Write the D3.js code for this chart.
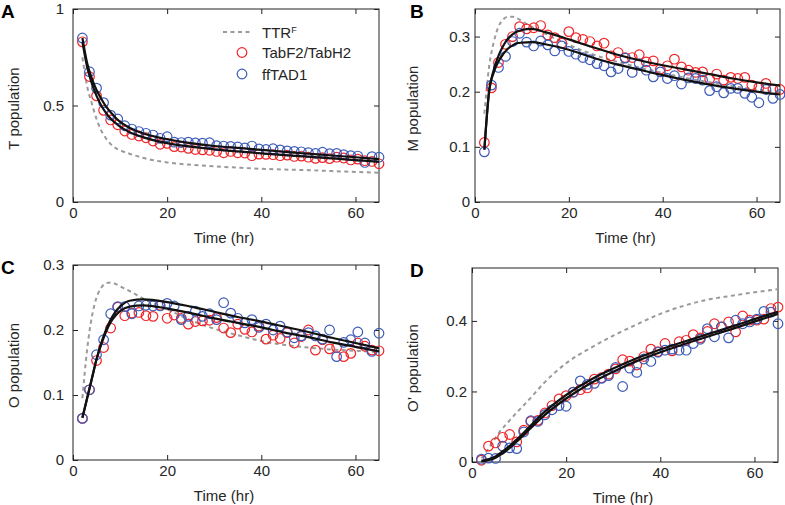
<!DOCTYPE html>
<html>
<head>
<meta charset="utf-8">
<script src="https://cdn.jsdelivr.net/npm/d3@7"></script>
<style>
  body { margin: 0; background: #fff; }
  text { font-family: "Liberation Sans", Arial, Helvetica, sans-serif; }
</style>
</head>
<body>
<svg id="chart" width="785" height="505"></svg>
<script>
// measurement times (hr)
const time = [2, 3.5, 5, 6.5, 8, 9.5, 11, 12.5, 14, 15.5, 17, 18.5, 20, 21.5, 23, 24.5, 26, 27.5, 29, 30.5,
  32, 33.5, 35, 36.5, 38, 39.5, 41, 42.5, 44, 45.5, 47, 48.5, 50, 51.5, 53, 54.5, 56, 57.5, 59, 60.5, 62, 63.5, 65]
// knots of the model curves (hr)
const fitTime = [2, 3, 4, 5, 6, 7, 8, 9, 10, 12, 15, 20, 25, 30, 35, 40, 45, 50, 55, 60, 65]

const xTicks = [0, 20, 40, 60]

// A: T population
const tabT = [0.83, 0.65, 0.55, 0.475, 0.425, 0.40, 0.368, 0.35, 0.342, 0.333, 0.316, 0.299, 0.304,
  0.287, 0.285, 0.278, 0.272, 0.27, 0.268, 0.262, 0.255, 0.262, 0.255, 0.254, 0.24, 0.248, 0.247, 0.245,
  0.24, 0.243, 0.236, 0.238, 0.232, 0.226, 0.23, 0.225, 0.232, 0.228, 0.218, 0.222, 0.214, 0.21, 0.198]
const ffT = [0.85, 0.675, 0.59, 0.515, 0.45, 0.43, 0.395, 0.378, 0.365, 0.356, 0.347, 0.33, 0.338,
  0.31, 0.308, 0.31, 0.306, 0.305, 0.307, 0.292, 0.29, 0.288, 0.285, 0.28, 0.29, 0.275, 0.272, 0.276,
  0.27, 0.265, 0.262, 0.26, 0.256, 0.252, 0.258, 0.25, 0.252, 0.245, 0.24, 0.238, 0.205, 0.235, 0.232]
const fitTabT = [0.83, 0.7, 0.615, 0.55, 0.5, 0.462, 0.432, 0.41, 0.39, 0.362, 0.335, 0.305, 0.287, 0.273,
  0.262, 0.252, 0.243, 0.235, 0.226, 0.217, 0.208]
const fitFfT = [0.85, 0.72, 0.64, 0.58, 0.535, 0.495, 0.465, 0.438, 0.415, 0.385, 0.355, 0.325, 0.305, 0.29,
  0.28, 0.27, 0.26, 0.25, 0.241, 0.232, 0.222]
const ttrT = [0.75, 0.6, 0.51, 0.43, 0.37, 0.33, 0.3, 0.28, 0.268, 0.25, 0.228, 0.205, 0.193, 0.185,
  0.178, 0.172, 0.168, 0.165, 0.16, 0.156, 0.152]
const yTicksT = [0, 0.5, 1]

// B: M population
const tabM = [0.108, 0.207, 0.253, 0.286, 0.300, 0.318, 0.314, 0.316, 0.320, 0.303, 0.298, 0.288, 0.309,
  0.298, 0.295, 0.291, 0.283, 0.288, 0.265, 0.271, 0.262, 0.262, 0.267, 0.254, 0.256, 0.241, 0.247, 0.259,
  0.245, 0.239, 0.235, 0.236, 0.223, 0.232, 0.221, 0.226, 0.224, 0.226, 0.212, 0.208, 0.215, 0.204, 0.204]
const ffM = [0.091, 0.212, 0.244, 0.264, 0.291, 0.306, 0.290, 0.283, 0.292, 0.285, 0.274, 0.283, 0.273,
  0.268, 0.262, 0.258, 0.251, 0.247, 0.236, 0.242, 0.261, 0.235, 0.251, 0.239, 0.227, 0.236, 0.224, 0.229,
  0.214, 0.225, 0.224, 0.221, 0.202, 0.209, 0.198, 0.206, 0.206, 0.197, 0.190, 0.180, 0.204, 0.188, 0.195]
const fitTabM = [0.095, 0.2, 0.24, 0.265, 0.283, 0.296, 0.304, 0.309, 0.312, 0.314, 0.308, 0.295, 0.281,
  0.268, 0.257, 0.248, 0.24, 0.232, 0.224, 0.217, 0.211]
const fitFfM = [0.095, 0.2, 0.235, 0.255, 0.268, 0.278, 0.284, 0.288, 0.289, 0.29, 0.286, 0.276, 0.262,
  0.25, 0.24, 0.23, 0.221, 0.213, 0.206, 0.2, 0.195]
const ttrM = [0.16, 0.245, 0.29, 0.318, 0.331, 0.336, 0.336, 0.333, 0.328, 0.318, 0.305, 0.285, 0.268,
  0.255, 0.244, 0.234, 0.225, 0.217, 0.21, 0.204, 0.199]
const yTicksM = [0, 0.1, 0.2, 0.3]

// C: O population
const tabO = [0.064, 0.108, 0.153, 0.173, 0.203, 0.235, 0.222, 0.226, 0.227, 0.222, 0.221, 0.238, 0.218,
  0.223, 0.218, 0.209, 0.213, 0.214, 0.215, 0.219, 0.203, 0.196, 0.209, 0.201, 0.197, 0.206, 0.186, 0.192,
  0.187, 0.196, 0.18, 0.19, 0.2, 0.169, 0.185, 0.171, 0.173, 0.159, 0.164, 0.18, 0.175, 0.169, 0.168]
const ffO = [0.064, 0.108, 0.162, 0.185, 0.225, 0.236, 0.236, 0.225, 0.237, 0.238, 0.237, 0.237, 0.241,
  0.237, 0.216, 0.221, 0.229, 0.221, 0.225, 0.216, 0.242, 0.226, 0.218, 0.211, 0.216, 0.204, 0.209, 0.2,
  0.206, 0.197, 0.188, 0.191, 0.196, 0.191, 0.186, 0.2, 0.159, 0.181, 0.185, 0.197, 0.18, 0.167, 0.195]
const fitTabO = [0.065, 0.095, 0.125, 0.155, 0.178, 0.197, 0.212, 0.222, 0.229, 0.236, 0.238, 0.233, 0.226,
  0.218, 0.211, 0.204, 0.196, 0.189, 0.181, 0.174, 0.167]
const fitFfO = [0.065, 0.095, 0.125, 0.155, 0.18, 0.2, 0.216, 0.228, 0.236, 0.245, 0.247, 0.243, 0.236,
  0.228, 0.22, 0.213, 0.205, 0.197, 0.188, 0.18, 0.172]
const ttrO = [0.095, 0.17, 0.22, 0.25, 0.265, 0.272, 0.273, 0.271, 0.267, 0.26, 0.248, 0.232, 0.215,
  0.202, 0.192, 0.183, 0.177, 0.173, 0.17, 0.168, 0.166]
const yTicksO = [0, 0.1, 0.2, 0.3]

// D: O' population
const tabOp = [0.005, 0.045, 0.054, 0.07, 0.078, 0.057, 0.09, 0.115, 0.118, 0.139, 0.16, 0.179, 0.188,
  0.198, 0.205, 0.21, 0.235, 0.239, 0.249, 0.264, 0.29, 0.286, 0.275, 0.299, 0.32, 0.313, 0.336, 0.315,
  0.341, 0.345, 0.361, 0.352, 0.37, 0.392, 0.383, 0.397, 0.369, 0.414, 0.402, 0.402, 0.405, 0.435, 0.439]
const ffOp = [0.008, 0.011, 0.01, 0.045, 0.04, 0.038, 0.085, 0.117, 0.115, 0.134, 0.148, 0.16, 0.158,
  0.198, 0.23, 0.22, 0.223, 0.237, 0.245, 0.268, 0.214, 0.266, 0.254, 0.292, 0.285, 0.311, 0.317, 0.32,
  0.317, 0.317, 0.336, 0.348, 0.378, 0.355, 0.383, 0.352, 0.402, 0.392, 0.397, 0.405, 0.427, 0.425, 0.392]
const fitTabOp = [0.003, 0.006, 0.01, 0.016, 0.025, 0.035, 0.046, 0.058, 0.07, 0.097, 0.137, 0.19, 0.232,
  0.265, 0.294, 0.319, 0.341, 0.362, 0.383, 0.405, 0.426]
const fitFfOp = [0.002, 0.004, 0.007, 0.012, 0.02, 0.029, 0.04, 0.052, 0.064, 0.09, 0.128, 0.18, 0.222,
  0.256, 0.286, 0.311, 0.334, 0.355, 0.376, 0.398, 0.42]
const ttrOp = [0.01, 0.028, 0.048, 0.068, 0.088, 0.103, 0.118, 0.133, 0.147, 0.175, 0.22, 0.28, 0.322,
  0.358, 0.39, 0.42, 0.443, 0.46, 0.471, 0.481, 0.49]
const yTicksOp = [0, 0.2, 0.4]

const red = '#f0262a'
const blue = '#3d5cb8'
const gray = '#9a9a9a'
const ink = '#262626'

const svg = d3.select('#chart')

const panels = [
  { letter: 'A', x0: 73, x1: 379, y0: 9, y1: 202, yMax: 1, yTicks: yTicksT, label: 'T population',
    tab: tabT, ff: ffT, fitTab: fitTabT, fitFf: fitFfT, ttr: ttrT, pad: 9, lx: 19, legend: true },
  { letter: 'B', x0: 475, x1: 780, y0: 9, y1: 202, yMax: 0.35, yTicks: yTicksM, label: 'M population',
    tab: tabM, ff: ffM, fitTab: fitTabM, fitFf: fitFfM, ttr: ttrM, pad: 5, lx: 418 },
  { letter: 'C', x0: 73, x1: 379, y0: 265, y1: 460, yMax: 0.3, yTicks: yTicksO, label: 'O population',
    tab: tabO, ff: ffO, fitTab: fitTabO, fitFf: fitFfO, ttr: ttrO, pad: 9, lx: 19 },
  { letter: 'D', x0: 472, x1: 778, y0: 268, y1: 462, yMax: 0.55, yTicks: yTicksOp, label: 'O\u2019 population',
    tab: tabOp, ff: ffOp, fitTab: fitTabOp, fitFf: fitFfOp, ttr: ttrOp, pad: 5, lx: 418 }
]

const fmt = d3.format('~g')

function styleAxis(sel) {
  sel.select('.domain').remove()
  sel.selectAll('line').attr('stroke', '#222')
  sel.selectAll('text')
    .attr('font-family', '"Liberation Sans", Arial, sans-serif')
    .attr('font-size', 15)
    .attr('fill', ink)
}

panels.forEach(p => {
  const x = d3.scaleLinear().domain([0, 65]).range([p.x0, p.x1])
  const y = d3.scaleLinear().domain([0, p.yMax]).range([p.y1, p.y0])
  const g = svg.append('g')

  g.append('g')
    .attr('transform', `translate(0, ${p.y1})`)
    .call(d3.axisBottom(x).tickValues(xTicks).tickSize(-5).tickPadding(5).tickFormat(fmt))
    .call(styleAxis)
  g.append('g')
    .attr('transform', `translate(0, ${p.y0})`)
    .call(d3.axisTop(x).tickValues(xTicks).tickSize(-5).tickFormat(''))
    .call(styleAxis)
  g.append('g')
    .attr('transform', `translate(${p.x0}, 0)`)
    .call(d3.axisLeft(y).tickValues(p.yTicks).tickSize(-5).tickPadding(p.pad).tickFormat(fmt))
    .call(styleAxis)
  g.append('g')
    .attr('transform', `translate(${p.x1}, 0)`)
    .call(d3.axisRight(y).tickValues(p.yTicks).tickSize(-5).tickFormat(''))
    .call(styleAxis)

  g.append('rect')
    .attr('x', p.x0)
    .attr('y', p.y0)
    .attr('width', p.x1 - p.x0)
    .attr('height', p.y1 - p.y0)
    .attr('fill', 'none')
    .attr('stroke', '#222')
    .attr('stroke-width', 1)

  const line = d3.line()
    .x(d => x(d[0]))
    .y(d => y(d[1]))
    .curve(d3.curveMonotoneX)

  g.append('path')
    .attr('d', line(d3.zip(fitTime, p.ttr)))
    .attr('fill', 'none')
    .attr('stroke', gray)
    .attr('stroke-width', 2)
    .attr('stroke-dasharray', '4,3.5')

  g.selectAll('circle.tab')
    .data(d3.zip(time, p.tab))
    .enter()
    .append('circle')
    .attr('class', 'tab')
    .attr('cx', d => x(d[0]))
    .attr('cy', d => y(d[1]))
    .attr('r', 4.8)
    .attr('fill', 'none')
    .attr('stroke', red)
    .attr('stroke-width', 1.2)

  g.selectAll('circle.ff')
    .data(d3.zip(time, p.ff))
    .enter()
    .append('circle')
    .attr('class', 'ff')
    .attr('cx', d => x(d[0]))
    .attr('cy', d => y(d[1]))
    .attr('r', 4.8)
    .attr('fill', 'none')
    .attr('stroke', blue)
    .attr('stroke-width', 1.2)

  ;[p.fitTab, p.fitFf].forEach(vals => {
    g.append('path')
      .attr('d', line(d3.zip(fitTime, vals)))
      .attr('fill', 'none')
      .attr('stroke', '#111')
      .attr('stroke-width', 2.2)
  })

  g.append('text')
    .text('Time (hr)')
    .attr('x', (p.x0 + p.x1) / 2 - 2)
    .attr('y', p.y1 + 41)
    .attr('text-anchor', 'middle')
    .attr('font-size', 15)
    .attr('fill', ink)

  g.append('text')
    .text(p.label)
    .attr('transform', `translate(${p.lx}, ${(p.y0 + p.y1) / 2 + 3}) rotate(-90)`)
    .attr('text-anchor', 'middle')
    .attr('font-size', 15)
    .attr('fill', ink)

  g.append('text')
    .text(p.letter)
    .attr('x', p.x0 < 200 ? 1 : 410)
    .attr('y', p.y0 + 9)
    .attr('font-size', 19)
    .attr('font-weight', 'bold')
    .attr('fill', '#000')

  if (p.legend) {
    const lg = g.append('g')
    lg.append('line')
      .attr('x1', 223).attr('x2', 253)
      .attr('y1', 32).attr('y2', 32)
      .attr('stroke', gray)
      .attr('stroke-width', 2)
      .attr('stroke-dasharray', '4,3.5')
    const t = lg.append('text')
      .attr('x', 262).attr('y', 37.5)
      .attr('font-size', 15)
      .attr('fill', ink)
    t.append('tspan').text('TTR')
    t.append('tspan').text('F').attr('font-size', 9).attr('dy', -5)
    const items = [['TabF2/TabH2', red, 52.5], ['ffTAD1', blue, 74]]
    items.forEach(([name, color, cy]) => {
      lg.append('circle')
        .attr('cx', 242).attr('cy', cy).attr('r', 4.8)
        .attr('fill', 'none').attr('stroke', color).attr('stroke-width', 1.2)
      lg.append('text')
        .text(name)
        .attr('x', 262).attr('y', cy + 5.5)
        .attr('font-size', 15)
        .attr('fill', ink)
    })
  }
})
</script>
</body>
</html>
